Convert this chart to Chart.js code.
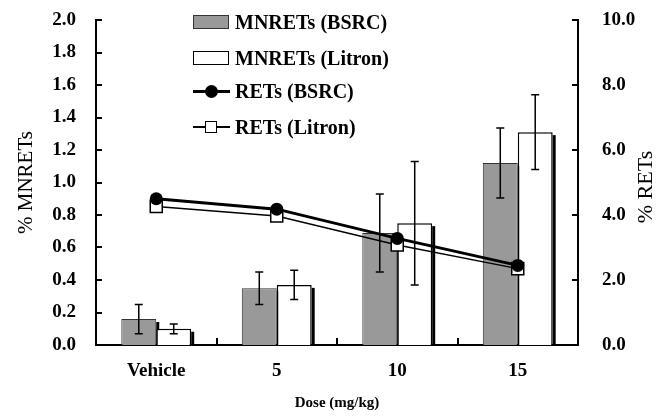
<!DOCTYPE html>
<html>
<head>
<meta charset="utf-8">
<script src="https://cdn.jsdelivr.net/npm/chart.js@4.4.1/dist/chart.umd.min.js"></script>
<style>
    html, body { margin: 0; padding: 0; background: #fff; }
    #wrap { position: relative; width: 656px; height: 416px; }
    .lg { position: absolute; left: 193px; height: 20px; display: flex; align-items: center;
          font-family: 'Liberation Serif', serif; font-size: 20px; font-weight: bold; color: #000; }
    .sw { position: relative; width: 37px; height: 20px; margin-right: 5px; }
    .box { position: absolute; left: 0; top: 3px; width: 34px; height: 12px; }
    .ln { position: absolute; left: 0; width: 37px; background: #000; }
    .mk { position: absolute; }
</style>
</head>
<body>
<div id="wrap">
    <canvas id="c" width="656" height="416"></canvas>
    <div class="lg" style="top:12px"><div class="sw"><div class="box" style="background:#999;border:1px solid #333"></div></div>MNRETs (BSRC)</div>
    <div class="lg" style="top:48px"><div class="sw"><div class="box" style="background:#fff;border:1px solid #000"></div></div>MNRETs (Litron)</div>
    <div class="lg" style="top:81px"><div class="sw"><div class="ln" style="top:9px;height:3px"></div><div class="mk" style="left:12px;top:4px;width:13px;height:13px;border-radius:50%;background:#000"></div></div>RETs (BSRC)</div>
    <div class="lg" style="top:117px"><div class="sw"><div class="ln" style="top:9px;height:1.5px"></div><div class="mk" style="left:12px;top:4px;width:10px;height:10px;background:#fff;border:1.5px solid #000"></div></div>RETs (Litron)</div>
</div>
<script>
const doses = ['Vehicle', '5', '10', '15'];
const mnretsBsrc = [0.16, 0.35, 0.69, 1.12];
const mnretsBsrcErr = [0.09, 0.10, 0.24, 0.215];
const mnretsLitron = [0.10, 0.37, 0.75, 1.31];
const mnretsLitronErr = [0.03, 0.09, 0.38, 0.23];
const retsBsrc = [4.50, 4.18, 3.28, 2.45];
const retsLitron = [4.26, 3.97, 3.08, 2.35];
const leftMax = 2.0, leftStep = 0.2;
const rightMax = 10.0, rightStep = 2.0;

const serif = "'Liberation Serif', 'Times New Roman', serif";

// black strip on the right of each bar
const barShadow = {
    id: 'barShadow',
    beforeDatasetsDraw(chart) {
        const ctx = chart.ctx;
        ctx.save();
        ctx.fillStyle = '#000';
        chart.data.datasets.forEach((ds, i) => {
            if (ds.type !== 'bar') return;
            chart.getDatasetMeta(i).data.forEach((el) => {
                const x = el.x + el.width / 2;
                ctx.fillRect(x, el.y + 3, 3, el.base - el.y - 3);
            });
        });
        ctx.restore();
    },
};

const errorBars = {
    id: 'errorBars',
    afterDatasetDraw(chart, args) {
        const ds = chart.data.datasets[args.index];
        if (!ds.errors) return;
        const ctx = chart.ctx;
        const y = chart.scales[ds.yAxisID || 'y'];
        ctx.save();
        ctx.strokeStyle = '#000';
        ctx.lineWidth = 1.5;
        args.meta.data.forEach((el, j) => {
            const v = ds.data[j], e = ds.errors[j];
            const top = y.getPixelForValue(v + e);
            const bot = y.getPixelForValue(v - e);
            ctx.beginPath();
            ctx.moveTo(el.x, top); ctx.lineTo(el.x, bot);
            ctx.moveTo(el.x - 4, top); ctx.lineTo(el.x + 4, top);
            ctx.moveTo(el.x - 4, bot); ctx.lineTo(el.x + 4, bot);
            ctx.stroke();
        });
        ctx.restore();
    },
};

// inward tick marks and the right-hand title
const axisExtras = {
    id: 'axisExtras',
    afterDraw(chart) {
        const { ctx, chartArea: a, scales } = chart;
        ctx.save();
        ctx.strokeStyle = '#000';
        ctx.lineWidth = 2;
        ctx.beginPath();
        for (let v = 0; v <= leftMax + 1e-9; v += leftStep) {
            const py = Math.round(scales.y.getPixelForValue(v));
            ctx.moveTo(a.left, py); ctx.lineTo(a.left + 6, py);
        }
        for (let v = 0; v <= rightMax + 1e-9; v += rightStep) {
            const py = Math.round(scales.y2.getPixelForValue(v));
            ctx.moveTo(a.right - 6, py); ctx.lineTo(a.right, py);
        }
        for (let i = 0; i < doses.length - 1; i++) {
            const px = Math.round((scales.x.getPixelForValue(i) + scales.x.getPixelForValue(i + 1)) / 2);
            ctx.moveTo(px, a.bottom); ctx.lineTo(px, a.bottom - 7);
        }
        ctx.stroke();

        ctx.fillStyle = '#000';
        ctx.font = '22px ' + serif;
        ctx.textAlign = 'center';
        ctx.textBaseline = 'middle';
        ctx.translate(646, 187);
        ctx.rotate(-Math.PI / 2);
        ctx.fillText('% RETs', 0, 0);
        ctx.restore();
    },
};

const tickFont = { family: serif, size: 19, weight: 'bold' };

new Chart(document.getElementById('c'), {
    data: {
        labels: doses,
        datasets: [
            {
                type: 'line', label: 'RETs (BSRC)', data: retsBsrc, yAxisID: 'y2', order: 0,
                borderColor: '#000', borderWidth: 3, backgroundColor: '#000',
                pointStyle: 'circle', pointRadius: 6.5, pointBorderWidth: 0, tension: 0,
            },
            {
                type: 'line', label: 'RETs (Litron)', data: retsLitron, yAxisID: 'y2', order: 0,
                borderColor: '#000', borderWidth: 1.5, backgroundColor: '#fff',
                pointStyle: 'rect', pointRadius: 8.5, pointBorderWidth: 1.5, pointBorderColor: '#000', tension: 0,
            },
            {
                type: 'bar', label: 'MNRETs (BSRC)', data: mnretsBsrc, errors: mnretsBsrcErr, yAxisID: 'y', order: 1,
                backgroundColor: '#999', borderColor: '#333', borderWidth: 1,
                categoryPercentage: 0.58, barPercentage: 1.0,
            },
            {
                type: 'bar', label: 'MNRETs (Litron)', data: mnretsLitron, errors: mnretsLitronErr, yAxisID: 'y', order: 1,
                backgroundColor: '#fff', borderColor: '#000', borderWidth: 1.5,
                categoryPercentage: 0.58, barPercentage: 1.0,
            },
        ],
    },
    options: {
        responsive: false,
        animation: false,
        layout: { padding: { top: 20, left: 10, right: 0, bottom: 0 } },
        plugins: { legend: { display: false }, tooltip: { enabled: false } },
        scales: {
            x: {
                offset: true,
                grid: { display: false },
                border: { color: '#000', width: 2 },
                ticks: { color: '#000', font: tickFont, padding: 7 },
                title: { display: true, text: 'Dose (mg/kg)', color: '#000', font: { family: serif, size: 15, weight: 'bold' }, padding: { top: 8 } },
                afterFit(s) { s.height = 71; },
            },
            y: {
                position: 'left',
                min: 0, max: leftMax,
                grid: { display: false },
                border: { color: '#000', width: 2 },
                ticks: { stepSize: leftStep, color: '#000', font: tickFont, padding: 12, callback: (v) => v.toFixed(1) },
                title: { display: true, text: '% MNRETs', color: '#000', font: { family: serif, size: 21 }, padding: { bottom: 4 } },
                afterFit(s) { s.width = 86; s.paddingTop = 0; s.paddingBottom = 0; },
            },
            y2: {
                position: 'right',
                min: 0, max: rightMax,
                grid: { display: false },
                border: { color: '#000', width: 2 },
                ticks: { stepSize: rightStep, color: '#000', font: tickFont, padding: 16, callback: (v) => v.toFixed(1) },
                afterFit(s) { s.width = 78; s.paddingTop = 0; s.paddingBottom = 0; },
            },
        },
    },
    plugins: [barShadow, errorBars, axisExtras],
});
</script>
</body>
</html>
